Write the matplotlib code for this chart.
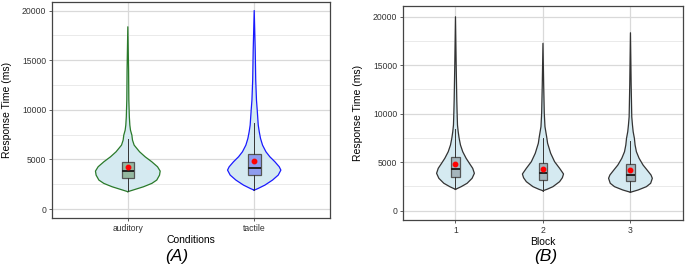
import matplotlib
matplotlib.use("Agg")
import matplotlib.pyplot as plt
import numpy as np

plt.rcParams['font.family'] = ['Liberation Sans', 'DejaVu Sans']

# ---- data ----
# panel A: conditions (violin outline: response time, half width in category units)
cond_labels = ['auditory', 'tactile']
aud_y = [1750, 1910, 2245, 2585, 2920, 3420, 3825, 4260, 4760, 5265, 5770, 6440, 6945, 7450,
         7950, 8455, 9300, 11000, 14000, 18360]
aud_w = [0, .040, .124, .190, .229, .251, .256, .235, .190, .137, .093, .050, .037, .032,
         .021, .016, .012, .008, .006, 0]
tac_y = [1900, 2080, 2415, 2920, 3420, 3925, 4260, 4760, 5265, 5770, 6440, 7115, 7780, 8455,
         9960, 10970, 13000, 16000, 20000]
tac_w = [0, .032, .085, .145, .190, .211, .198, .164, .124, .093, .066, .050, .040, .032,
         .024, .018, .012, .008, 0]
cond_med = [3825, 4160]
cond_q1 = [3120, 3390]
cond_q3 = [4700, 5535]
cond_lo = [1800, 1900]
cond_hi = [7015, 8690]
cond_mean = [4200, 4800]

# panel B: blocks
block_labels = ['1', '2', '3']
b1_y = [2200, 2475, 2825, 3340, 3855, 4370, 4885, 5400, 6080, 6775, 7465, 8145, 8835, 10000,
        11410, 15000, 20000]
b1_w = [0, .065, .133, .190, .216, .197, .159, .122, .083, .057, .042, .031, .023, .019,
        .015, .008, 0]
b2_y = [2060, 2200, 2475, 2990, 3400, 3785, 4370, 5050, 5920, 6950, 7630, 8660, 10040, 13000,
        17260]
b2_w = [0, .045, .114, .19, .222, .235, .19, .133, .088, .053, .042, .023, .015, .008, 0]
b3_y = [1900, 2135, 2475, 2825, 3340, 3680, 4195, 4710, 5400, 6080, 6775, 7465, 8145, 8835,
        9690, 13000, 18350]
b3_w = [0, .088, .182, .231, .250, .235, .190, .144, .099, .068, .053, .045, .031, .023,
        .015, .008, 0]
block_med = [4270, 3855, 3710]
block_q1 = [3505, 3130, 3060]
block_q3 = [5505, 4885, 4780]
block_lo = [2200, 2060, 1900]
block_hi = [8400, 7500, 7200]
block_mean = [4815, 4330, 4230]

fig = plt.figure(figsize=(6.85, 2.66), dpi=100)
axA = fig.add_axes([0.0759, 0.1805, 0.4059, 0.8135])
axB = fig.add_axes([0.5883, 0.173, 0.4087, 0.804])


def style(ax, xlim, ylim, labels):
    ax.set_xlim(*xlim)
    ax.set_ylim(*ylim)
    ax.set_yticks([0, 5000, 10000, 15000, 20000])
    ax.set_yticks([2500, 7500, 12500, 17500], minor=True)
    ax.set_xticks(range(1, len(labels) + 1))
    ax.set_xticklabels(labels)
    ax.grid(True, which='major', color='#d9d9d9', linewidth=0.9, zorder=0)
    ax.grid(True, which='minor', axis='y', color='#e6e6e6', linewidth=0.6, zorder=0)
    ax.set_axisbelow(True)
    for s in ax.spines.values():
        s.set_color('#444444')
        s.set_linewidth(0.9)
    ax.tick_params(which='major', length=2, width=0.6, color='#444444',
                   labelsize=6.2, labelcolor='#333333', pad=2)
    ax.tick_params(which='minor', length=0)
    ax.set_ylabel('Response Time (ms)', fontsize=7.5, labelpad=7)


def violin(ax, pos, ys, ws, edge):
    ys = np.array(ys)
    ws = np.array(ws)
    ax.fill_betweenx(ys, pos - ws, pos + ws, facecolor='#d5eaf1', edgecolor='none', zorder=2)
    ax.plot(np.r_[pos - ws, (pos + ws)[::-1]], np.r_[ys, ys[::-1]], color=edge, lw=0.9,
            zorder=3, solid_joinstyle='round')


def boxes(ax, meds, q1s, q3s, los, his, means, fills):
    stats = []
    for i in range(len(meds)):
        stats.append(dict(med=meds[i], q1=q1s[i], q3=q3s[i], whislo=los[i], whishi=his[i],
                          mean=means[i], fliers=[]))
    bp = ax.bxp(stats, positions=range(1, len(meds) + 1), widths=0.1, showmeans=True,
                showcaps=False, patch_artist=True, manage_ticks=False,
                boxprops=dict(edgecolor='#555555', linewidth=0.9),
                whiskerprops=dict(color='#333333', linewidth=0.7),
                medianprops=dict(color='#222222', linewidth=1.4),
                meanprops=dict(marker='o', markerfacecolor='red', markeredgecolor='red',
                               markersize=3.2))
    for patch, c in zip(bp['boxes'], fills):
        patch.set_facecolor(c)
    for k in bp:
        for a in bp[k]:
            a.set_zorder(4)
    for a in bp['means']:
        a.set_zorder(5)


# panel A
violin(axA, 1, aud_y, aud_w, '#2a7a2a')
violin(axA, 2, tac_y, tac_w, '#1a1aff')
boxes(axA, cond_med, cond_q1, cond_q3, cond_lo, cond_hi, cond_mean, ['#94b8a0', '#8e9cef'])
style(axA, (0.4, 2.6), (-900, 20900), cond_labels)
axA.set_xlabel('Conditions', fontsize=7.5, labelpad=1.5)

# panel B
violin(axB, 1, b1_y, b1_w, '#333333')
violin(axB, 2, b2_y, b2_w, '#333333')
violin(axB, 3, b3_y, b3_w, '#333333')
boxes(axB, block_med, block_q1, block_q3, block_lo, block_hi, block_mean, ['#a5b5bc'] * 3)
style(axB, (0.4, 3.6), (-960, 21100), block_labels)
axB.set_xlabel('Block', fontsize=7.5, labelpad=1.5)

fig.text(177 / 685, 1 - 257 / 266, '(A)', fontsize=12.5, style='italic', ha='center', va='center')
fig.text(546 / 685, 1 - 257 / 266, '(B)', fontsize=12.5, style='italic', ha='center', va='center')

fig.savefig('out.png', dpi=100)
